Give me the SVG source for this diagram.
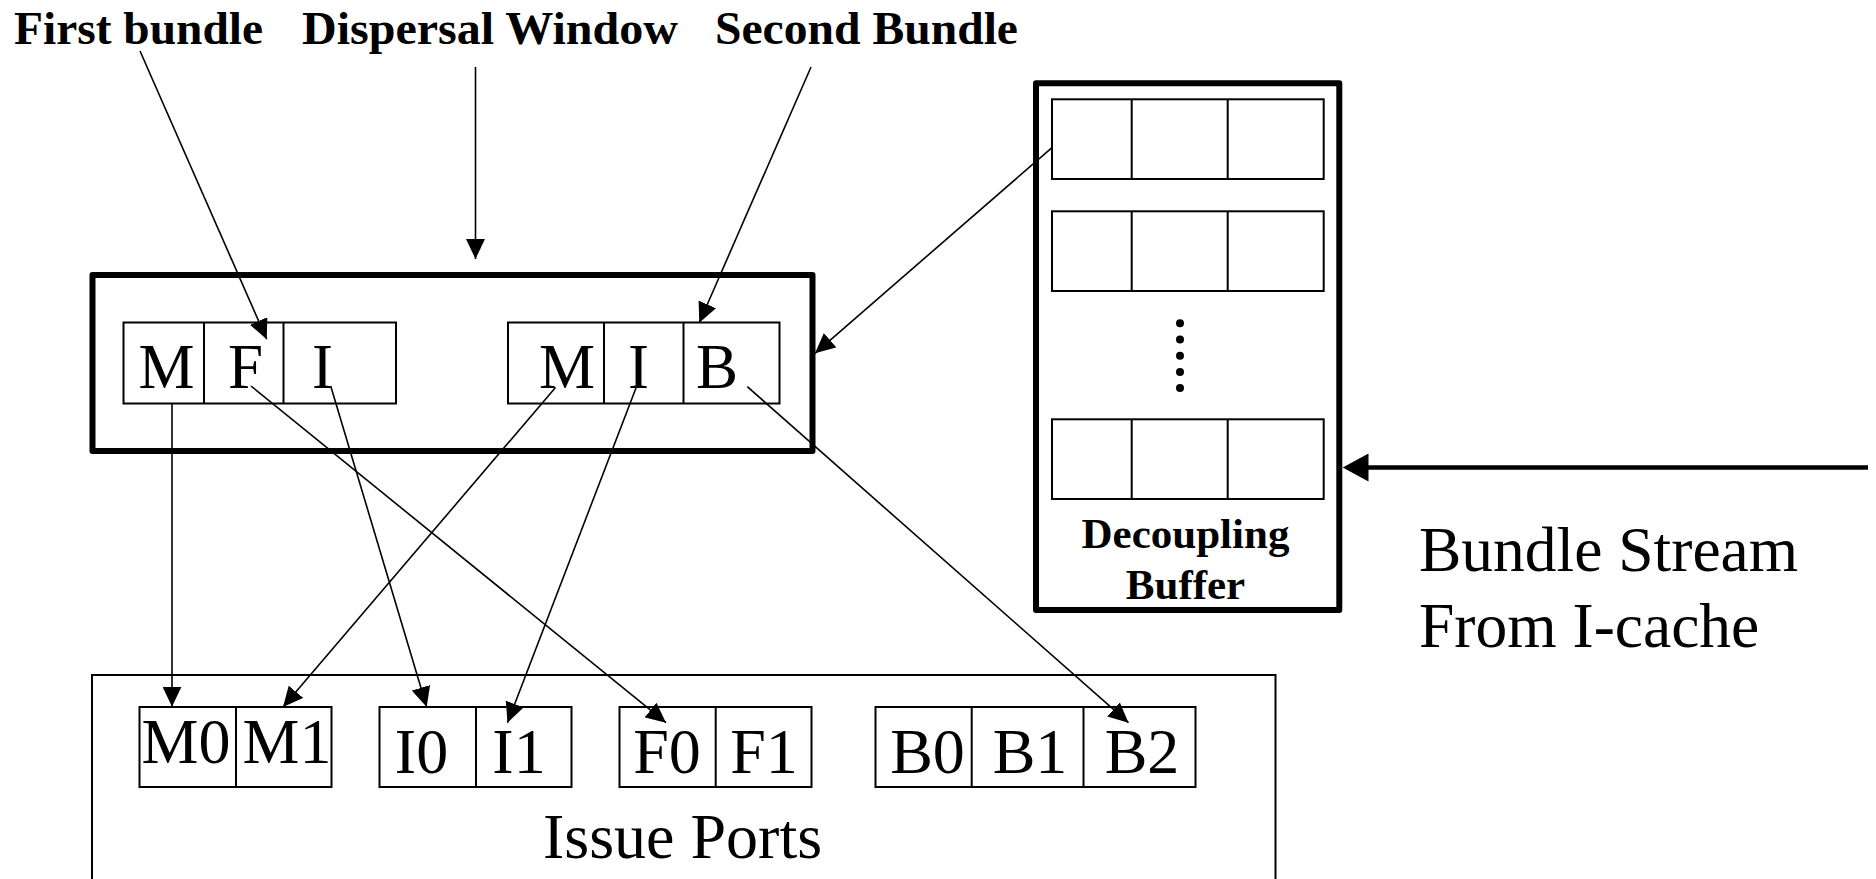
<svg xmlns="http://www.w3.org/2000/svg" width="1876" height="879" viewBox="0 0 1876 879">
<defs>
<style>
.thick{fill:none;stroke:#000;stroke-width:6;stroke-linejoin:round}
.cell{fill:none;stroke:#000;stroke-width:2}
.frame{fill:none;stroke:#000;stroke-width:2}
.lbl{font-family:"Liberation Serif","Times New Roman",serif;font-weight:bold;font-size:47px;fill:#000}
.bl{font-family:"Liberation Serif","Times New Roman",serif;font-weight:bold;font-size:43px;fill:#000;text-anchor:middle}
.big{font-family:"Liberation Serif","Times New Roman",serif;font-size:63px;fill:#000;text-anchor:middle}
.port{font-family:"Liberation Serif","Times New Roman",serif;font-size:64px;fill:#000;text-anchor:middle}
.txt{font-family:"Liberation Serif","Times New Roman",serif;font-size:63.5px;fill:#000}
.conn{fill:none;stroke:#000;stroke-width:1.6}
</style>
<marker id="ah" viewBox="0 0 20 19" refX="20" refY="9.5" markerWidth="20" markerHeight="19" markerUnits="userSpaceOnUse" orient="auto">
<path d="M0,0 L20,9.5 L0,19 z" fill="#000"/>
</marker>
</defs>
<rect width="1876" height="879" fill="#fff"/>

<g id="labels">
<text class="lbl" x="14" y="44" textLength="249" lengthAdjust="spacingAndGlyphs">First bundle</text>
<text class="lbl" x="302" y="44" textLength="376" lengthAdjust="spacingAndGlyphs">Dispersal Window</text>
<text class="lbl" x="715" y="44" textLength="303" lengthAdjust="spacingAndGlyphs">Second Bundle</text>
</g>

<g id="dispersal-window">
<rect class="thick" x="92.5" y="275" width="720" height="176"/>
</g>

<g id="first-bundle">
<rect class="cell" x="123.5" y="322.5" width="272.5" height="81"/>
<line class="cell" x1="204" y1="322.5" x2="204" y2="403.5"/>
<line class="cell" x1="283.5" y1="322.5" x2="283.5" y2="403.5"/>
<text class="big" x="166.5" y="388">M</text>
<text class="big" x="245.5" y="388">F</text>
<text class="big" x="322.5" y="388">I</text>
</g>

<g id="second-bundle">
<rect class="cell" x="508" y="322.5" width="271.5" height="81"/>
<line class="cell" x1="604" y1="322.5" x2="604" y2="403.5"/>
<line class="cell" x1="683.5" y1="322.5" x2="683.5" y2="403.5"/>
<text class="big" x="567" y="388">M</text>
<text class="big" x="638.5" y="388">I</text>
<text class="big" x="717" y="388">B</text>
</g>

<g id="decoupling-buffer">
<rect class="thick" x="1036" y="83.3" width="303.3" height="526.7"/>
<rect class="cell" x="1052" y="99.3" width="271.7" height="79.7"/>
<line class="cell" x1="1131.7" y1="99.3" x2="1131.7" y2="179"/>
<line class="cell" x1="1227.7" y1="99.3" x2="1227.7" y2="179"/>
<rect class="cell" x="1052" y="211.3" width="271.7" height="79.7"/>
<line class="cell" x1="1131.7" y1="211.3" x2="1131.7" y2="291"/>
<line class="cell" x1="1227.7" y1="211.3" x2="1227.7" y2="291"/>
<circle cx="1180" cy="323.3" r="4"/>
<circle cx="1180" cy="339.5" r="4"/>
<circle cx="1180" cy="355.7" r="4"/>
<circle cx="1180" cy="371.9" r="4"/>
<circle cx="1180" cy="388.1" r="4"/>
<rect class="cell" x="1052" y="419.3" width="271.7" height="79.7"/>
<line class="cell" x1="1131.7" y1="419.3" x2="1131.7" y2="499"/>
<line class="cell" x1="1227.7" y1="419.3" x2="1227.7" y2="499"/>
<text class="bl" x="1185.5" y="548.3">Decoupling</text>
<text class="bl" x="1185.5" y="599.3">Buffer</text>
</g>

<g id="bundle-stream">
<text class="txt" x="1419" y="571">Bundle Stream</text>
<text class="txt" x="1419" y="647">From I-cache</text>
</g>

<g id="issue-ports">
<rect class="frame" x="92" y="675" width="1183.5" height="230"/>
<text class="port" x="682.5" y="858">Issue Ports</text>
</g>

<g id="port-m">
<rect class="cell" x="139.5" y="707" width="192" height="80"/>
<line class="cell" x1="236" y1="707" x2="236" y2="787"/>
<text class="port" x="186" y="763">M0</text>
<text class="port" x="287" y="763">M1</text>
</g>

<g id="port-i">
<rect class="cell" x="379.5" y="707" width="192" height="80"/>
<line class="cell" x1="476" y1="707" x2="476" y2="787"/>
<text class="port" x="421.5" y="772.5">I0</text>
<text class="port" x="519" y="772.5">I1</text>
</g>

<g id="port-f">
<rect class="cell" x="619.5" y="707" width="192" height="80"/>
<line class="cell" x1="715.7" y1="707" x2="715.7" y2="787"/>
<text class="port" x="667" y="772.5">F0</text>
<text class="port" x="764" y="772.5">F1</text>
</g>

<g id="port-b">
<rect class="cell" x="875.5" y="707" width="320" height="80"/>
<line class="cell" x1="971.7" y1="707" x2="971.7" y2="787"/>
<line class="cell" x1="1083.5" y1="707" x2="1083.5" y2="787"/>
<text class="port" x="927.5" y="772.5">B0</text>
<text class="port" x="1030" y="772.5">B1</text>
<text class="port" x="1142" y="772.5">B2</text>
</g>

<g id="connectors">
<line class="conn" x1="140" y1="51" x2="266.7" y2="339.3" marker-end="url(#ah)"/>
<line class="conn" x1="475.5" y1="67" x2="475.5" y2="259" marker-end="url(#ah)"/>
<line class="conn" x1="811" y1="67" x2="699.3" y2="322.7" marker-end="url(#ah)"/>
<line class="conn" x1="1052.3" y1="147.3" x2="815" y2="353.3" marker-end="url(#ah)"/>
<line class="conn" x1="172" y1="403.5" x2="172" y2="706.7" marker-end="url(#ah)"/>
<line class="conn" x1="555.5" y1="387.5" x2="283" y2="707" marker-end="url(#ah)"/>
<line class="conn" x1="330.7" y1="386" x2="426.7" y2="707" marker-end="url(#ah)"/>
<line class="conn" x1="636" y1="388" x2="507.5" y2="722.7" marker-end="url(#ah)"/>
<line class="conn" x1="251" y1="386" x2="666" y2="722.7" marker-end="url(#ah)"/>
<line class="conn" x1="747.3" y1="386.7" x2="1128.5" y2="722.7" marker-end="url(#ah)"/>
<line x1="1868" y1="467.5" x2="1366" y2="467.5" stroke="#000" stroke-width="4.5"/>
<polygon points="1342.7,467.5 1368.5,453.5 1368.5,481.5" fill="#000"/>
</g>
</svg>
